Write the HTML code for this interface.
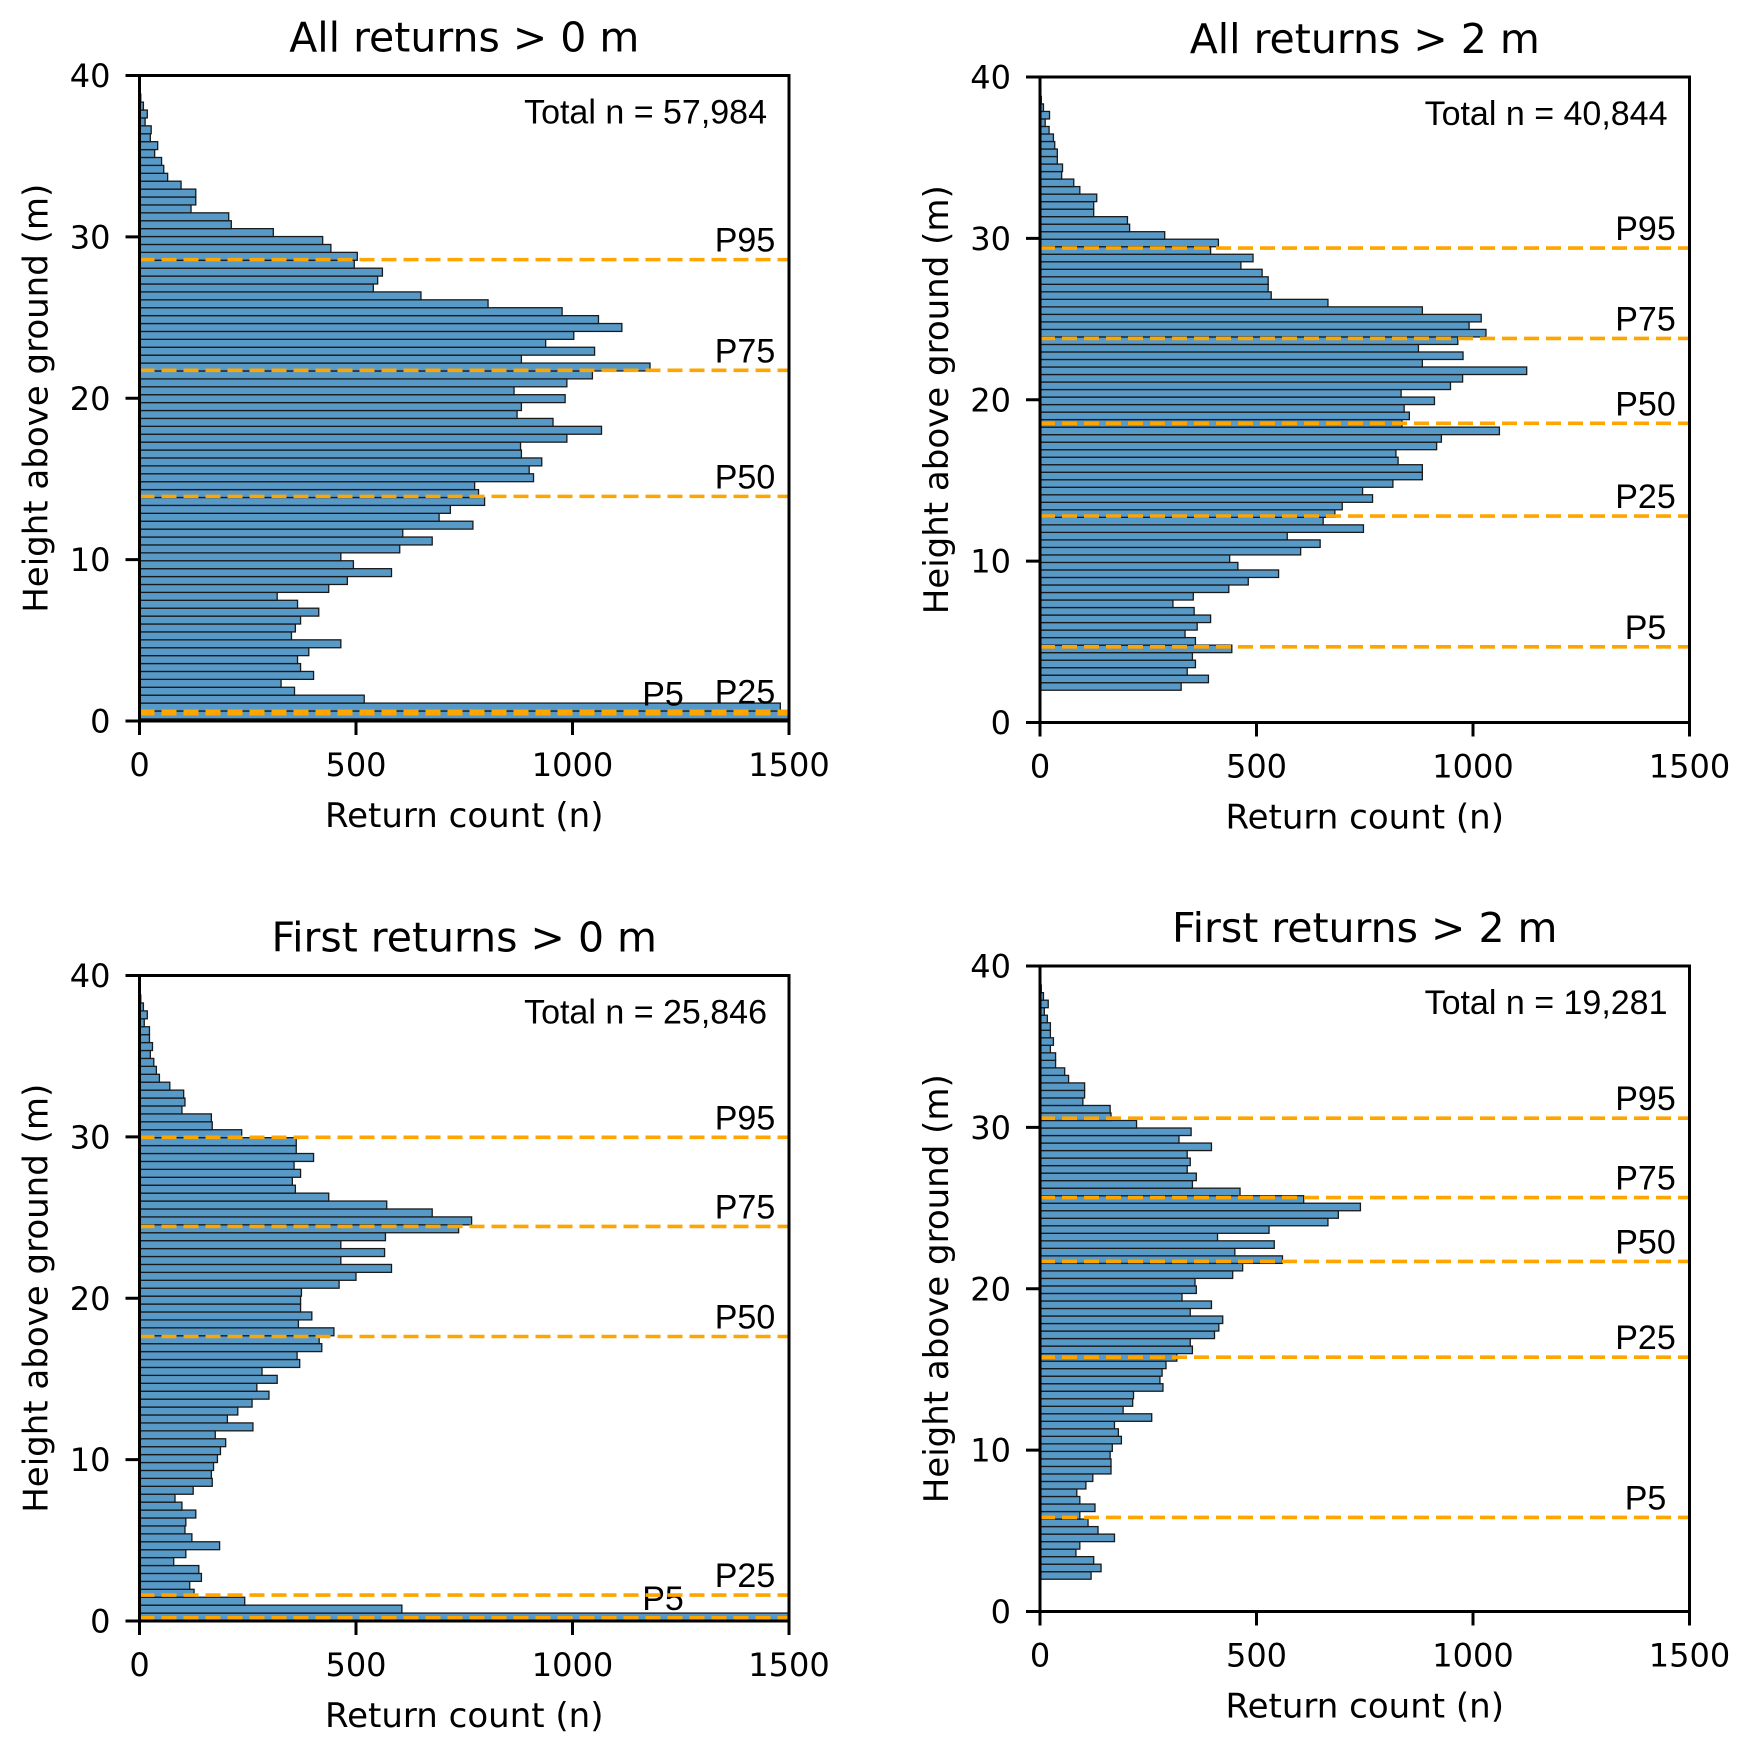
<!DOCTYPE html>
<html><head><meta charset="utf-8"><title>Return histograms</title>
<style>
html,body{margin:0;padding:0;background:#fff;}
svg{display:block;}
.tk{font-family:"DejaVu Sans","Liberation Sans",sans-serif;font-size:32px;fill:#000;}
.ttl{font-family:"DejaVu Sans","Liberation Sans",sans-serif;font-size:41px;fill:#000;}
.lab{font-family:"DejaVu Sans","Liberation Sans",sans-serif;font-size:34px;fill:#000;}
.ann{font-family:"Liberation Sans",Arial,sans-serif;font-size:34px;fill:#000;}
</style></head>
<body>
<svg id="fig" xmlns="http://www.w3.org/2000/svg" width="1746" height="1747" viewBox="0 0 1746 1747"></svg>
<script>
// ---- data (counts listed from highest bin downward) ----
const titles = ["All returns > 0 m","All returns > 2 m","First returns > 0 m","First returns > 2 m"];
const totals = ["Total n = 57,984","Total n = 40,844","Total n = 25,846","Total n = 19,281"];
const binStart = [0.13, 2.0, 0.0, 2.0];
const binWidth = [0.49, 0.4658, 0.491, 0.466];
const pctNames = ["P5","P25","P50","P75","P95"];
const pctAll0 = [0.45,0.6,13.92,21.73,28.59];
const pctAll2 = [4.69,12.79,18.54,23.8,29.4];
const pctFirst0 = [0.2,1.61,17.63,24.45,29.97];
const pctFirst2 = [5.83,15.76,21.69,25.65,30.57];
const countsAll0 = [2,3,9,18,13,27,25,42,35,51,56,65,96,130,130,119,206,212,309,423,442,503,496,561,550,540,650,805,976,1060,1114,1003,938,1051,882,1179,1046,987,865,983,882,872,955,1067,987,880,882,929,900,910,774,783,797,718,692,770,608,676,601,465,494,582,480,437,318,365,414,372,360,351,465,391,365,372,402,327,358,519,1480,3000];
const countsAll2 = [2,3,8,22,12,21,31,34,40,40,52,50,78,92,131,124,124,202,207,288,412,394,492,464,513,527,527,534,665,883,1019,991,1030,965,874,977,883,1124,976,948,834,911,841,853,836,1061,927,916,822,827,883,883,815,745,768,698,681,654,747,571,647,602,438,457,551,481,436,354,307,356,394,363,335,359,443,352,359,340,389,326];
const countsFirst0 = [2,3,9,18,11,23,23,30,25,33,39,46,70,102,105,98,166,168,236,362,362,402,357,372,353,360,437,571,676,767,737,568,465,566,465,582,500,461,374,372,372,398,367,449,415,421,364,370,283,318,271,299,260,227,203,262,175,199,187,180,171,166,168,124,82,98,130,107,105,121,185,107,79,137,143,116,126,243,606,3000];
const countsFirst2 = [2,3,8,19,10,17,24,24,31,24,36,36,57,66,103,103,99,162,164,223,349,321,396,340,347,340,361,352,462,609,740,689,665,529,410,541,450,560,468,445,358,361,328,396,347,422,413,403,347,352,316,291,282,277,284,216,214,192,258,172,181,188,167,162,164,164,122,106,85,92,127,92,111,134,172,92,83,124,141,118];
const xTicks = [0,500,1000,1500];
const yTicks = [0,10,20,30,40];
const xMax = 1500, yMax = 40;

const allCounts = [countsAll0,countsAll2,countsFirst0,countsFirst2];
const allPcts = [pctAll0,pctAll2,pctFirst0,pctFirst2];
const frames = [
  {x0:139.5,top:75.5,name:"all-returns-0m"},
  {x0:1040,top:77,name:"all-returns-2m"},
  {x0:139.5,top:975.5,name:"first-returns-0m"},
  {x0:1040,top:966,name:"first-returns-2m"}
];
const W = 649.5, H = 645.5;
const NS = "http://www.w3.org/2000/svg";
const svg = document.getElementById("fig");
function mk(tag, attrs, parent, text){
  const e = document.createElementNS(NS, tag);
  for (const k in attrs) e.setAttribute(k, attrs[k]);
  if (text !== undefined) e.textContent = text;
  parent.appendChild(e);
  return e;
}
const defs = mk("defs",{},svg);

frames.forEach((f,i)=>{
  const g = mk("g",{},svg);
  
  
  const xs = v => f.x0 + v / xMax * W;
  const ys = m => f.top + H - m / yMax * H;
  const cp = mk("clipPath",{id:"clip"+i},defs);
  mk("rect",{x:f.x0,y:f.top,width:W,height:H},cp);

  const bars = mk("g",{"clip-path":"url(#clip"+i+")"},g);
  
  
  const c = allCounts[i].slice().reverse();
  c.forEach((v,k)=>{
    const lo = binStart[i] + k*binWidth[i], hi = lo + binWidth[i];
    const r = mk("rect",{x:xs(0),y:ys(hi),width:Math.max(0,xs(v)-xs(0)),height:ys(lo)-ys(hi),
      fill:"#5799c7",stroke:"#1a1a1a","stroke-width":1.3},bars);
    
    
  });

  const p = allPcts[i];
  const close = Math.abs(p[1]-p[0]) < 2.5;
  p.forEach((v,k)=>{
    const y = ys(v);
    const ln = mk("line",{x1:f.x0,x2:f.x0+W,y1:y,y2:y,stroke:"#ffa500","stroke-width":3.6,"stroke-dasharray":"15 7"},g);
    
    
    let cx = f.x0 + W - 44;
    if (k===0 && close) cx -= 82;
    const t = mk("text",{x:cx,y:y-8,"text-anchor":"middle","class":"ann"},g,pctNames[k]);
    
    
  });

  const fr = mk("rect",{x:f.x0,y:f.top,width:W,height:H,fill:"none",stroke:"#000","stroke-width":3},g);
  
  

  xTicks.forEach(v=>{
    const x = xs(v);
    const tl = mk("line",{x1:x,x2:x,y1:f.top+H,y2:f.top+H+14,stroke:"#000","stroke-width":3},g);
    
    
    const tt = mk("text",{x:x,y:f.top+H+55,"text-anchor":"middle","class":"tk"},g,String(v));
    
    
  });
  yTicks.forEach(v=>{
    const y = ys(v);
    const tl = mk("line",{x1:f.x0-14,x2:f.x0,y1:y,y2:y,stroke:"#000","stroke-width":3},g);
    
    
    const tt = mk("text",{x:f.x0-29,y:y+11.5,"text-anchor":"end","class":"tk"},g,String(v));
    
    
  });

  const ti = mk("text",{x:f.x0+W/2,y:f.top-24,"text-anchor":"middle","class":"ttl"},g,titles[i]);
  
  
  const xl = mk("text",{x:f.x0+W/2,y:f.top+H+106,"text-anchor":"middle","class":"lab"},g,"Return count (n)");
  
  
  const yc = f.top+H/2, yx = f.x0-92;
  const yl = mk("text",{x:yx,y:yc,"text-anchor":"middle","class":"lab",transform:"rotate(-90 "+yx+" "+yc+")"},g,"Height above ground (m)");
  
  
  const tn = mk("text",{x:f.x0+W-22,y:f.top+48,"text-anchor":"end","class":"ann"},g,totals[i]);
  
  
});
</script>
</body></html>
